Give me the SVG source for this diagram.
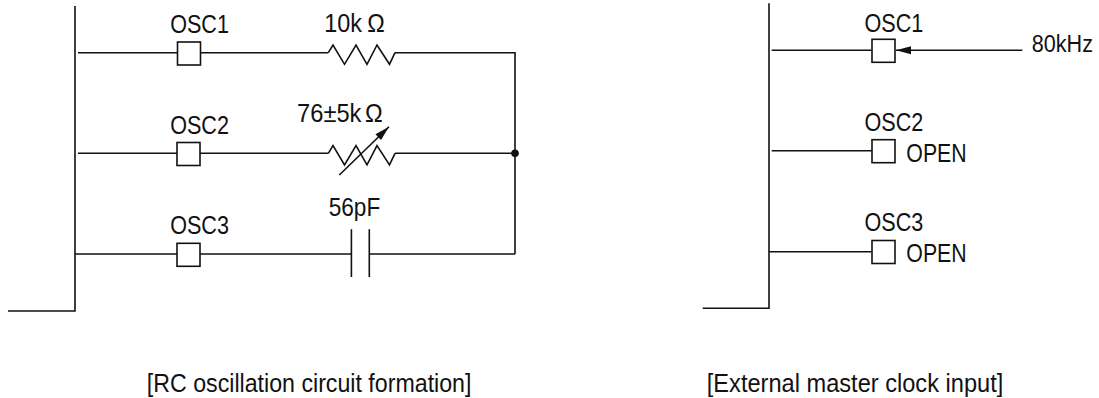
<svg xmlns="http://www.w3.org/2000/svg" width="1099" height="398" viewBox="0 0 1099 398">
<style>
.w{fill:none;stroke:#111;stroke-width:1.6;stroke-linecap:butt;stroke-linejoin:miter}
.pin{fill:#fff;stroke:#111;stroke-width:1.6}
.t{font-family:"Liberation Sans",Arial,sans-serif;font-size:26px;fill:#111}
</style>
<defs>
<marker id="ah" viewBox="-16 -5 17 10" markerWidth="17" markerHeight="10" refX="0" refY="0" orient="auto" markerUnits="userSpaceOnUse">
<path d="M0,0 L-15,-4 L-15,4 Z" fill="#111"/>
</marker>
</defs>
<rect width="1099" height="398" fill="#fff"/>

<!-- LEFT: RC oscillation circuit -->
<g id="left-bus">
<path class="w" d="M75,6 V311 H8"/>
</g>

<g id="connectors">
<!-- left panel wires -->
<path class="w" d="M78,52.7 H177.5 M200.5,52.7 H328.3 M395,52.7 H515 V254"/>
<path class="w" d="M78,153.3 H177 M200,153.3 H328.3 M395,153.3 H515"/>
<path class="w" d="M75,254 H177 M200,254 H351.4 M369.3,254 H515"/>
<!-- right panel wires -->
<path class="w" d="M771.7,50.3 H872"/>
<path class="w" d="M1022.3,50.3 H896" marker-end="url(#ah)"/>
<path class="w" d="M771.7,150.7 H872"/>
<path class="w" d="M769,251.7 H872"/>
</g>

<g id="osc1-rc">
<rect class="pin" x="177.5" y="42" width="23" height="23"/>
<text class="t" transform="translate(170.2,32.7) scale(0.83,1)">OSC1</text>
</g>
<g id="osc2-rc">
<rect class="pin" x="177" y="142.5" width="23" height="23"/>
<text class="t" transform="translate(170.2,134) scale(0.83,1)">OSC2</text>
</g>
<g id="osc3-rc">
<rect class="pin" x="177" y="243.3" width="23" height="23"/>
<text class="t" transform="translate(170.2,233.5) scale(0.83,1)">OSC3</text>
</g>

<g id="r1">
<path class="w" d="M328.3,52.7 L333,45 L344.5,64.3 L356,45 L367,64.3 L377,45 L389.5,64.3 L395,52.7"/>
<text class="t" transform="translate(324.2,32.3) scale(0.9,1)">10k<tspan dx="6">Ω</tspan></text>
</g>

<g id="vr">
<path class="w" d="M328.3,153.3 L333,145.6 L344.5,164.9 L356,145.6 L367,164.9 L377,145.6 L389.5,164.9 L395,153.3"/>
<path class="w" d="M339.3,175 L389,126.7" marker-end="url(#ah)"/>
<text class="t" transform="translate(297.1,121.7) scale(0.91,1)">76±5k<tspan dx="4">Ω</tspan></text>
</g>

<g id="c1">
<path class="w" d="M351.4,229.3 V277 M369.3,229.3 V277"/>
<text class="t" transform="translate(328.7,216) scale(0.87,1)">56pF</text>
</g>

<g id="junction">
<circle cx="515" cy="153.3" r="3.8" fill="#111"/>
</g>

<g id="caption-left">
<text class="t" transform="translate(146.8,392.3) scale(0.892,1)">[RC oscillation circuit formation]</text>
</g>

<!-- RIGHT: External master clock -->
<g id="right-bus">
<path class="w" d="M769,3.3 V308.3 H702.7"/>
</g>

<g id="osc1-ext">
<rect class="pin" x="872" y="39.3" width="23" height="23"/>
<text class="t" transform="translate(864.6,31.7) scale(0.83,1)">OSC1</text>
</g>
<g id="clk-src">
<text class="t" style="font-size:24px" transform="translate(1031.8,52.3) scale(0.9,1)">80kHz</text>
</g>
<g id="osc2-ext">
<rect class="pin" x="872" y="139.7" width="23" height="23"/>
<text class="t" transform="translate(864.6,131) scale(0.83,1)">OSC2</text>
<text class="t" transform="translate(906.3,162.3) scale(0.82,1)">OPEN</text>
</g>
<g id="osc3-ext">
<rect class="pin" x="872" y="240.5" width="23" height="23"/>
<text class="t" transform="translate(864.6,231) scale(0.83,1)">OSC3</text>
<text class="t" transform="translate(906.3,261.7) scale(0.82,1)">OPEN</text>
</g>

<g id="caption-right">
<text class="t" transform="translate(706.8,392.3) scale(0.908,1)">[External master clock input]</text>
</g>
</svg>
